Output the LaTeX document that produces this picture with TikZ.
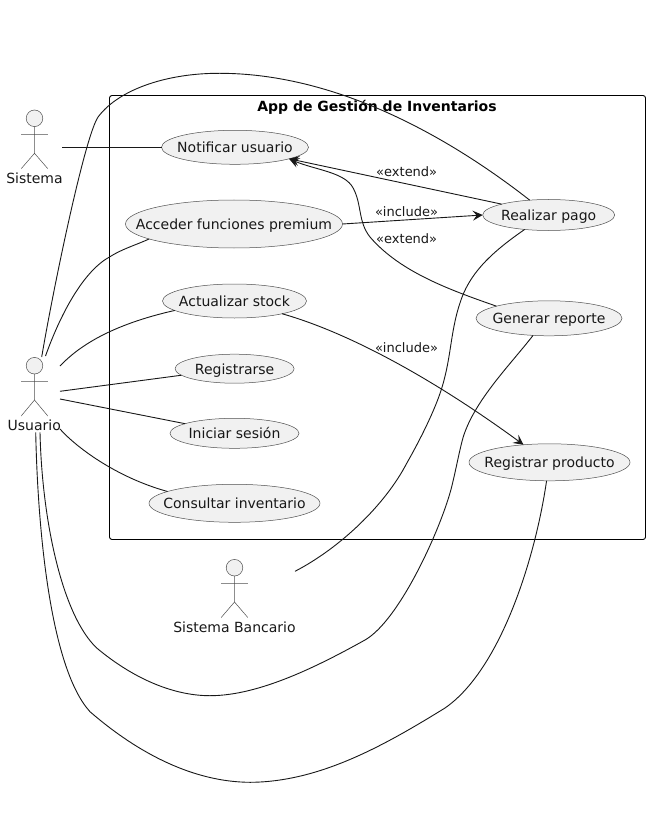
\documentclass[tikz,border=0pt]{standalone}
\usepackage{fontspec}
\setmainfont{DejaVu Sans}
\usetikzlibrary{shapes.geometric,arrows.meta}
\definecolor{ink}{HTML}{181818}
\definecolor{uc}{HTML}{F1F1F1}
\definecolor{thin}{HTML}{505050}
\tikzset{
  usecase/.style={ellipse,draw=thin,line width=0.5pt,fill=uc,inner sep=0pt,outer sep=0pt,text=ink,font=\fontsize{14}{16}\selectfont,text height=13pt,text depth=2pt},
  actorlabel/.style={inner sep=0pt,text=ink,font=\fontsize{14}{16}\selectfont,text height=13pt,text depth=2pt},
  rellabel/.style={inner sep=0pt,text=ink,font=\fontsize{13}{15}\selectfont,text height=12.6pt,text depth=2pt},
  titlelabel/.style={inner sep=0pt,text=black,font=\fontsize{14}{16}\selectfont\bfseries,text height=13pt,text depth=2pt},
  conn/.style={draw=ink,line width=0.9pt},
  dep/.style={conn,-{Stealth[length=10pt,width=10pt,inset=4pt]}},
  actorline/.style={draw=thin,line width=0.5pt},
}
\newcommand{\uctext}[1]{\makebox[0pt][c]{#1}}
\newcommand{\stickman}[5]{% x, head y, arm y, hip y, foot y
  \draw[actorline,fill=uc] (#1,#2) circle[radius=8.3pt];
  \draw[actorline] (#1,#2+8.3) -- (#1,#4) (#1-13.3,#3) -- (#1+13.3,#3) (#1-13.3,#5) -- (#1,#4) -- (#1+13.3,#5);
}
\begin{document}
\begin{tikzpicture}[x=1pt,y=-1pt]
\useasboundingbox (0,0) rectangle (650,818);
\fill[white] (0,0) rectangle (650,818);
% system boundary
\node[draw=black,line width=0.9pt,rounded corners=2.5pt,minimum width=536pt,minimum height=444pt,inner sep=0pt,outer sep=0pt] (app) at (377.5,317.5) {};
\node[titlelabel] (apptitle) at (377,106) {App de Gestión de Inventarios};
% actors
\stickman{34.5}{118.3}{134.3}{153.3}{168.7}
\stickman{34.5}{365.7}{381.3}{400}{416}
\stickman{234.5}{567.7}{583.3}{602}{617.5}
\node[actorlabel] (sistema) at (34.5,178) {Sistema};
\node[actorlabel] (usuario) at (34.3,425) {Usuario};
\node[actorlabel] (bancario) at (234.5,627) {Sistema Bancario};
% free ends beside the actors
\coordinate (sisR) at (62,147.3);
\coordinate (usuA) at (41.7,357);
\coordinate (usuB) at (45.5,356);
\coordinate (usuC) at (60,366);
\coordinate (usuD) at (60,391.3);
\coordinate (usuE) at (60,399);
\coordinate (usuF) at (60,429);
\coordinate (usuG) at (40,432.3);
\coordinate (usuH) at (35.7,432.3);
\coordinate (banR) at (295,571.3);
% use cases
\node[usecase,minimum width=147pt,minimum height=34pt] (notif) at (235,147.3) {\uctext{Notificar usuario}};
\node[usecase,minimum width=217pt,minimum height=48pt] (acc) at (234,224) {\uctext{Acceder funciones premium}};
\node[usecase,minimum width=144pt,minimum height=34pt] (act) at (234.5,301) {\uctext{Actualizar stock}};
\node[usecase,minimum width=119pt,minimum height=29pt] (reg) at (234.6,368.7) {\uctext{Registrarse}};
\node[usecase,minimum width=129pt,minimum height=30pt] (ini) at (234.5,433.3) {\uctext{Iniciar sesión}};
\node[usecase,minimum width=171pt,minimum height=38pt] (cons) at (234.5,503.3) {\uctext{Consultar inventario}};
\node[usecase,minimum width=132pt,minimum height=31pt] (pago) at (548.7,215) {\uctext{Realizar pago}};
\node[usecase,minimum width=146pt,minimum height=35pt] (rep) at (549,318.3) {\uctext{Generar reporte}};
\node[usecase,minimum width=161pt,minimum height=37pt] (prod) at (549.5,462.3) {\uctext{Registrar producto}};
% associations
\draw[conn] (sisR) -- (notif.west);
\draw[conn] (usuD) -- (reg.187);
\draw[conn] (usuE) -- (ini.169.4);
\draw[conn] (usuC) .. controls (78,347) and (110,325) .. (act.189.2);
\draw[conn] (usuF) .. controls (75,446) and (115,477) .. (cons.170.7);
\draw[conn] (usuB) .. controls (62,310) and (85,270) .. (110,256.7) .. controls (122,249) and (136,245) .. (acc.190.3);
\draw[conn] (usuA) .. controls (53,290) and (85,135) .. (98.3,116.7) .. controls (120,88) and (170,73) .. (220,73.3) .. controls (330,73.5) and (440,130) .. (pago.142);
\draw[conn] (usuG) .. controls (42,520) and (62,615) .. (96.7,648) .. controls (135,680) and (175,695.7) .. (210,695.7) .. controls (260,695.7) and (320,665) .. (365,640) .. controls (400,620) and (441.7,526.7) .. (451.7,486.7) .. controls (457,465) and (459,452) .. (463.3,436.7) .. controls (475,400) and (510,365) .. (rep.227.4);
\draw[conn] (usuH) .. controls (38,540) and (52,670) .. (90,711.7) .. controls (140,755) and (195,782) .. (250,782.3) .. controls (320,782) and (385,745) .. (445,708) .. controls (500,670) and (535,560) .. (prod.261.3);
\draw[conn] (banR) .. controls (340,548) and (385,505) .. (406.7,463.3) .. controls (420,440) and (435,410) .. (441.7,388.3) .. controls (452,355) and (450,330) .. (461.7,298) .. controls (472,270) and (495,250) .. (pago.211);
% dependencies
\draw[dep] (acc.east) -- (pago.west);
\draw[dep] (pago.167.6) -- (notif.348.7);
\draw[dep] (rep.167.2) .. controls (450,290) and (400,272) .. (370,237) .. controls (358,222) and (362,205) .. (353.3,188.3) .. controls (345,172) and (315,170) .. (notif.348.7);
\draw[dep] (act.345.6) .. controls (350,333) and (435,380) .. (prod.146.3);
% relation labels
\node[rellabel] (l1) at (406.7,171.7) {«extend»};
\node[rellabel] (l2) at (406.5,210.7) {«include»};
\node[rellabel] (l3) at (406.7,237.7) {«extend»};
\node[rellabel] (l4) at (406.5,346.7) {«include»};
\end{tikzpicture}
\end{document}
